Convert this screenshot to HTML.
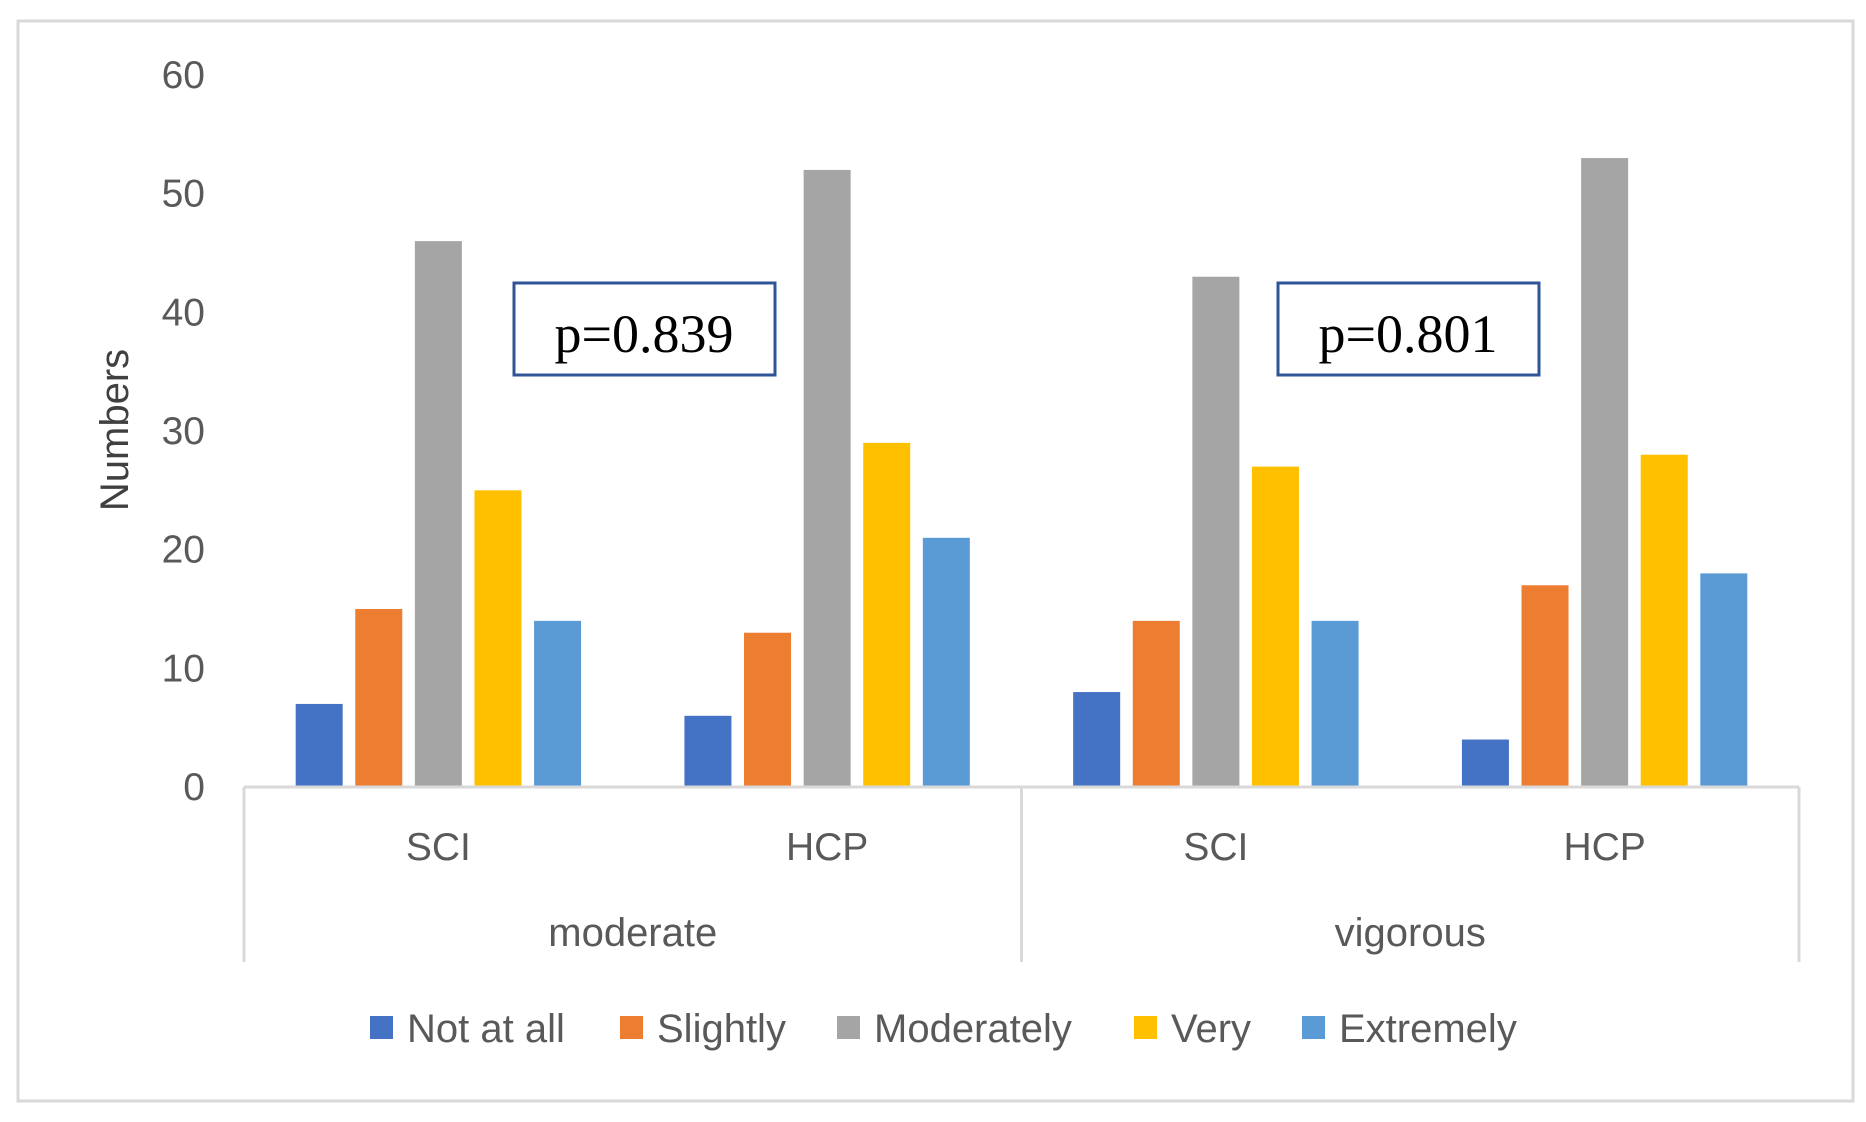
<!DOCTYPE html>
<html><head><meta charset="utf-8"><style>
body{margin:0;background:#fff}
svg{display:block;font-family:"Liberation Sans",sans-serif}
</style></head><body>
<svg id="chart" width="1866" height="1122" viewBox="0 0 1866 1122">
<rect x="18" y="21" width="1835" height="1080" fill="#fff" stroke="#d9d9d9" stroke-width="3"/>
<g id="g"></g>
</svg>
<script>
const groups = ["moderate", "vigorous"];
const subgroups = ["SCI", "HCP", "SCI", "HCP"];
const series = ["Not at all", "Slightly", "Moderately", "Very", "Extremely"];
const notAtAll = [7, 6, 8, 4];
const slightly = [15, 13, 14, 17];
const moderately = [46, 52, 43, 53];
const very = [25, 29, 27, 28];
const extremely = [14, 21, 14, 18];
const yTicks = [0, 10, 20, 30, 40, 50, 60];
const pValues = ["p=0.839", "p=0.801"];

const colors = ["#4472c4", "#ed7d31", "#a5a5a5", "#ffc000", "#5b9bd5"];
const data = [notAtAll, slightly, moderately, very, extremely];
const NS = "http://www.w3.org/2000/svg";
const g = document.getElementById("g");
const x0 = 244, x1 = 1799, y0 = 787, yTop = 75, ymax = 60;
const y = v => y0 - (v / ymax) * (y0 - yTop);
const gw = (x1 - x0) / subgroups.length;
const cx = i => x0 + gw * (i + 0.5);
const barStep = 59.6, barW = 47;
function el(t, a, txt) { const e = document.createElementNS(NS, t); for (const k in a) e.setAttribute(k, a[k]); if (txt != null) e.textContent = txt; g.appendChild(e); return e; }

yTicks.forEach(t => {
  const e = el("text", {x: 205, y: y(t) + 13, "text-anchor": "end", "font-size": 39, fill: "#595959"}, t);
  
  
});
const yt = el("text", {x: 0, y: 0, transform: "translate(128,430) rotate(-90)", "text-anchor": "middle", "font-size": 40, fill: "#404040"}, "Numbers");



data.forEach((arr, s) => {
  arr.forEach((v, i) => {
    const bx = cx(i) + (s - 2) * barStep - barW / 2;
    const r = el("rect", {x: bx, y: y(v), width: barW, height: y0 - y(v), fill: colors[s]});
    
    
  });
});

const ax = el("line", {x1: x0, y1: y0, x2: x1, y2: y0, stroke: "#d9d9d9", "stroke-width": 3});


[x0, (x0 + x1) / 2, x1].forEach(xx => {
  const l = el("line", {x1: xx, y1: y0, x2: xx, y2: 962, stroke: "#d9d9d9", "stroke-width": 3});
  
  
});
subgroups.forEach((s, i) => {
  const t = el("text", {x: cx(i), y: 860, "text-anchor": "middle", "font-size": 39, fill: "#595959"}, s);
  
  
});
groups.forEach((s, i) => {
  const t = el("text", {x: x0 + (x1 - x0) / 4 * (2 * i + 1), y: 946, "text-anchor": "middle", "font-size": 40, fill: "#595959"}, s);
  
  
});
[514, 1278].forEach((bx, i) => {
  const r = el("rect", {x: bx, y: 283, width: 261, height: 92, fill: "#fff", stroke: "#2f5597", "stroke-width": 3});
  
  
  const t = el("text", {x: bx + 130, y: 352, "text-anchor": "middle", "font-size": 54, "font-family": "Liberation Serif, serif", fill: "#000"}, pValues[i]);
  
  
});
const lx = [370, 620, 837, 1134, 1302];
series.forEach((s, i) => {
  const r = el("rect", {x: lx[i], y: 1016, width: 23, height: 23, fill: colors[i]});
  
  
  const t = el("text", {x: lx[i] + 37, y: 1042, "font-size": 40, fill: "#595959"}, s);
  
  
});
</script>
</body></html>
